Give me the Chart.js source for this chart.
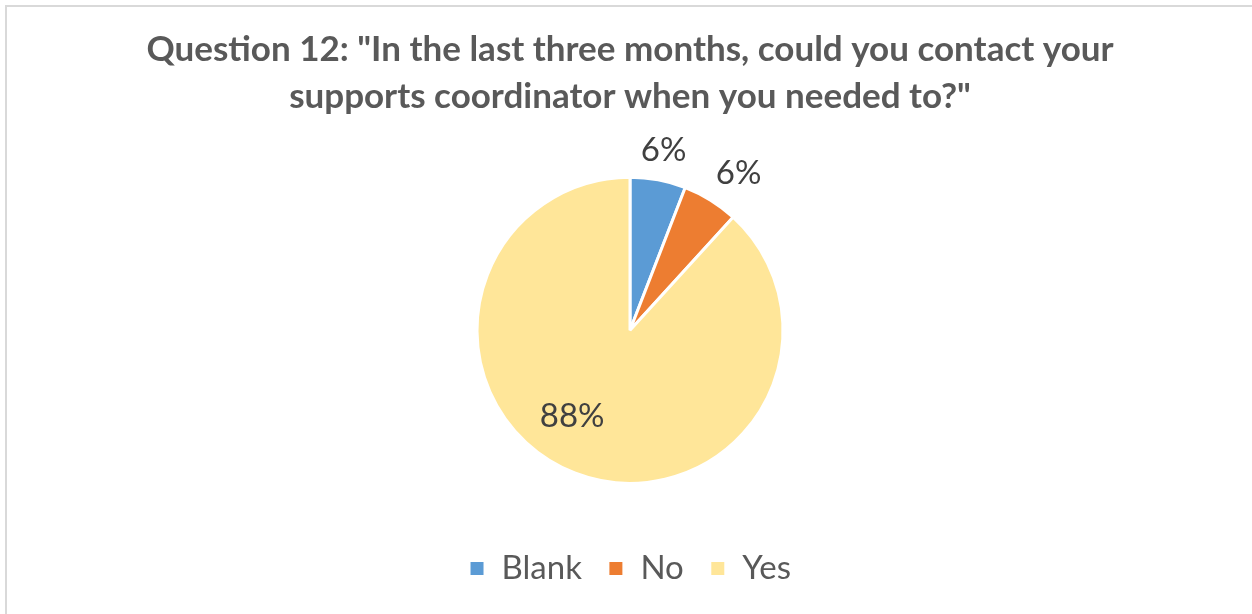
<!DOCTYPE html>
<html>
<head>
<meta charset="utf-8">
<script src="https://cdn.jsdelivr.net/npm/chart.js@4"></script>
<style>
  html, body { margin:0; padding:0; background:#fff; }
  #wrap { position:relative; width:1252px; height:614px; overflow:hidden; background:#fff; }
  #frame { position:absolute; left:5px; top:5px; width:1260px; height:620px; border:2px solid #d9d9d9; box-sizing:border-box; }
  canvas { position:absolute; left:0; top:0; }
</style>
</head>
<body>
<div id="wrap">
  <div id="frame"></div>
  <canvas id="c" width="1252" height="614"></canvas>
</div>
<script>
const titleLines = ['Question 12: "In the last three months, could you contact your', 'supports coordinator when you needed to?"'];
const categories = ['Blank', 'No', 'Yes'];
const counts = [1, 1, 15];
const colors = ['#5b9bd5', '#ed7d31', '#ffe699'];

const FONT = 'Lato, "Open Sans", sans-serif';

const labelPlugin = {
  id: 'pctLabels',
  afterDatasetsDraw(chart) {
    const ctx = chart.ctx;
    const meta = chart.getDatasetMeta(0);
    const total = counts.reduce((a, b) => a + b, 0);
    ctx.save();
    ctx.font = '33px ' + FONT;
    ctx.fillStyle = '#404040';
    ctx.textAlign = 'center';
    ctx.textBaseline = 'middle';
    meta.data.forEach((arc, i) => {
      const p = arc.getProps(['x', 'y', 'startAngle', 'endAngle', 'outerRadius']);
      const frac = counts[i] / total;
      const pct = Math.round(frac * 100) + '%';
      let mid = (p.startAngle + p.endAngle) / 2;
      let r;
      if (frac < 0.2) {
        r = p.outerRadius + 30 + i * 8;
        mid += i * 0.05;
      } else {
        r = p.outerRadius * 0.68;
        mid += 0.22;
      }
      const x = p.x + Math.cos(mid) * r;
      const y = p.y + Math.sin(mid) * r;
      ctx.fillText(pct, x, y);
    });
    ctx.restore();
  }
};

new Chart(document.getElementById('c'), {
  type: 'pie',
  data: {
    labels: categories,
    datasets: [{
      data: counts,
      backgroundColor: colors,
      borderColor: '#ffffff',
      borderWidth: 3,
      radius: 153
    }]
  },
  options: {
    responsive: false,
    animation: false,
    layout: { padding: { top: 20, bottom: 19, left: 8, right: 0 } },
    plugins: {
      title: {
        display: true,
        text: titleLines,
        color: '#595959',
        font: { family: FONT, size: 35, weight: 'bold', lineHeight: 1.35 },
        padding: { top: 6, bottom: 14 }
      },
      legend: {
        position: 'bottom',
        labels: {
          color: '#595959',
          font: { family: FONT, size: 33 },
          boxWidth: 16,
          boxHeight: 16,
          padding: 26
        }
      },
      tooltip: { enabled: false }
    }
  },
  plugins: [labelPlugin]
});
</script>
</body>
</html>
